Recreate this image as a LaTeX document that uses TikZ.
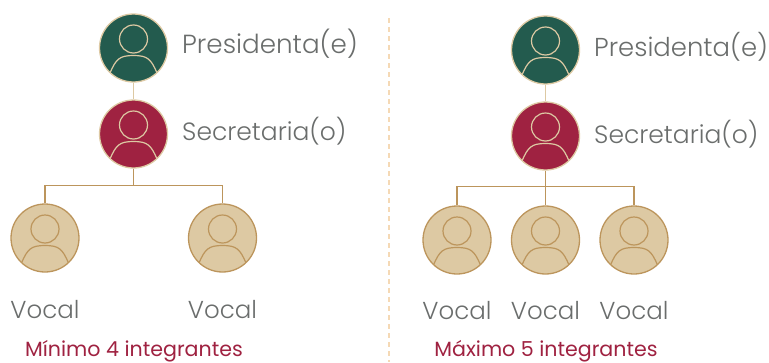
\documentclass[tikz,border=0pt]{standalone}
\usepackage{fontspec}
\setmainfont{Poppins}[UprightFont=* Light]
\newfontfamily\labelfont{Poppins}
\definecolor{verde}{HTML}{235B4E}
\definecolor{guinda}{HTML}{9F2241}
\definecolor{arena}{HTML}{DDC9A3}
\definecolor{oro}{HTML}{BC955C}
\definecolor{gris}{HTML}{6A6D6C}
\definecolor{punteado}{HTML}{F5D9B5}

\begin{document}
\begin{tikzpicture}[x=1pt,y=-1pt]

\tikzset{member/.style 2 args = {shape=circle,draw=#2,fill=#1,line width=1.3pt,inner sep=0pt,minimum size=68pt,
  path picture={
    \draw[#2,line width=1.2pt] ([yshift=9pt]path picture bounding box.center) circle (14pt);
    \draw[#2,line width=1.2pt] ([shift={(-23.5pt,-25pt)}]path picture bounding box.center)
      .. controls +(6pt,14pt) and +(-14pt,0pt) .. ([yshift=-7.5pt]path picture bounding box.center)
      .. controls +(14pt,0pt) and +(-6pt,14pt) .. ([shift={(23.5pt,-25pt)}]path picture bounding box.center);
  }}}
\tikzset{role/.style = {font=\fontsize{#1}{26}\selectfont,text=gris,inner sep=0pt,anchor=west}}
\tikzset{vocal/.style = {font=\fontsize{24.5}{26}\selectfont,text=gris,inner sep=0pt}}
\tikzset{total/.style = {font=\labelfont\fontsize{20.6}{22}\selectfont,text=guinda,inner sep=0pt,anchor=base}}
\tikzset{edge/.style = {draw=oro,line width=1.2pt}}
\useasboundingbox (0,0) rectangle (769,362);

%left group
\node[member={verde}{arena}] (presA) at (133.5,48) {};
\node[member={guinda}{arena}] (secA) at (133.5,134) {};
\node[member={arena}{oro}] (vocA1) at (45,238) {};
\node[member={arena}{oro}] (vocA2) at (222.5,238) {};
\coordinate (busA) at (133.5,185.5);
%right group
\node[member={verde}{arena}] (presB) at (545.5,50) {};
\node[member={guinda}{arena}] (secB) at (545.5,136) {};
\node[member={arena}{oro}] (vocB1) at (457,240) {};
\node[member={arena}{oro}] (vocB2) at (545.5,240) {};
\node[member={arena}{oro}] (vocB3) at (634,240) {};
\coordinate (busB) at (545.5,186.5);
%divider
\coordinate (divTop) at (389,18);
\coordinate (divBot) at (389,362);
%edges
\draw [edge,draw=arena] (presA) -- (secA);
\draw [edge] (secA) -- (busA);
\draw [edge] (vocA1) |- (busA) -| (vocA2);
\draw [edge,draw=arena] (presB) -- (secB);
\draw [edge] (secB) -- (vocB2);
\draw [edge] (vocB1) |- (busB) -| (vocB3);
\draw [punteado,line width=1.2pt,dash pattern=on 5pt off 4pt] (divTop) -- (divBot);
%labels
\node[role=26.2] (txtPresA) at (182,44) {Presidenta(e)};
\node[role=25] (txtSecA) at (182,131) {Secretaria(o)};
\node[vocal] (txtVocA1) at (45,310) {Vocal};
\node[vocal] (txtVocA2) at (222.5,310) {Vocal};
\node[total] (txtMin) at (134,356.5) {Mínimo 4 integrantes};
\node[role=25.9] (txtPresB) at (594,47) {Presidenta(e)};
\node[role=25] (txtSecB) at (594,134) {Secretaria(o)};
\node[vocal] (txtVocB1) at (457,311) {Vocal};
\node[vocal] (txtVocB2) at (545.5,311) {Vocal};
\node[vocal] (txtVocB3) at (634,311) {Vocal};
\node[total] (txtMax) at (546,356.5) {Máximo 5 integrantes};

\end{tikzpicture}
\end{document}
